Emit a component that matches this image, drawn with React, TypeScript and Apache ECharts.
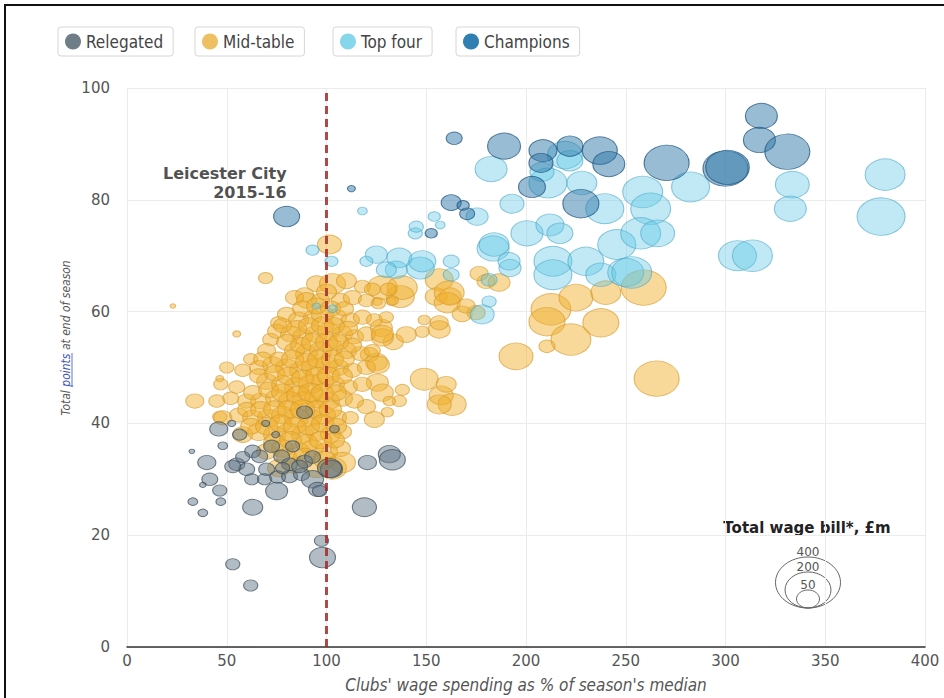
import React, { useEffect, useRef } from "react";
import * as echarts from "echarts";

// [wage % of median, points, total wage bill £m]
const relegated: number[][] = [
  [32.5, 35, 3], [40, 33, 31], [41.5, 30, 24], [38, 29, 4], [46.5, 28, 19], [33, 26, 9], [47, 26, 9], [38, 24, 9],
  [46, 39, 31], [52.5, 40, 6], [48, 36, 9], [56.5, 38, 19], [89, 42, 24], [69.5, 40, 6], [74.5, 38, 6], [104, 39, 9],
  [55, 32.7, 24], [63, 35, 24], [72.5, 35.9, 24], [77.5, 34.1, 24], [83, 35.9, 19], [60, 31.8, 24], [66.5, 34.1, 24],
  [70, 31.8, 24], [81.5, 32.7, 24], [89, 33.2, 24], [62.5, 30, 19], [69, 30, 19], [75.5, 30.4, 24], [81.5, 30.5, 24],
  [87.5, 30.9, 24], [93, 30, 46], [102.5, 31.8, 46], [75, 27.9, 46], [95.5, 28.2, 31], [53, 32.3, 24], [86.5, 32.3, 24],
  [93, 34, 24], [96.5, 27.9, 19], [101.5, 32, 55], [63, 25, 38], [97.5, 19, 19], [98, 16, 64], [53, 14.8, 19],
  [62, 11, 19], [120.5, 33, 31], [131.5, 34.5, 46], [133, 33.5, 64], [119, 25, 55], [58, 34, 19], [78, 32, 19],
];

const midTable: number[][] = [
  [23, 61, 3], [69.5, 66, 19], [55, 56, 6], [89, 63, 31], [46.5, 48, 6], [34, 44, 31], [46.5, 41.2, 19], [101.5, 72, 55],
  [212.5, 60.4, 151], [225, 62.5, 109], [210.5, 58.2, 123], [237.5, 58, 123], [222.5, 55, 151], [210.5, 53.8, 24],
  [195, 52, 109], [265.5, 48, 192], [240, 63.4, 85], [259, 64.3, 192],
  [156.5, 65.7, 74], [155, 62.7, 46], [162, 62.7, 46], [168, 59.6, 38], [156.5, 56.8, 46], [148, 56.4, 19],
  [137, 62.7, 74], [133.5, 54.6, 38], [149, 47.9, 74], [157.5, 45, 55], [136.5, 44, 19], [175, 59.8, 31],
  [180, 65.4, 31], [186.5, 65.2, 46], [176.5, 66.8, 31], [128, 64.3, 85], [138, 64.3, 85], [161.5, 63.4, 85],
  [160.5, 61.6, 64], [170, 61, 31], [125.5, 61.8, 9], [132.5, 61.8, 9], [127.5, 57.1, 46], [128, 55.4, 46],
  [140, 55.9, 38], [149, 58.5, 14], [156.5, 58, 31], [121.5, 52.3, 31], [125, 51, 46], [160, 47, 38],
  [125.5, 47.3, 46], [138, 46, 19], [128, 45.5, 46], [163, 43.4, 74], [156.5, 43.4, 55], [131.5, 44, 14],
  [130.5, 42, 14], [120, 43, 31], [124, 40.7, 38],
  [95, 65, 38], [103, 65, 64], [110, 65.5, 38], [118, 64.5, 24], [123, 64, 24], [131, 64, 24],
  [84, 62.5, 31], [90, 62, 38], [97, 62, 31], [100, 63.5, 38], [107, 62, 31], [113, 62.5, 31], [120, 62, 24], [126, 61.5, 19], [133, 62, 14],
  [76, 58, 24], [80, 59.5, 31], [86, 58.5, 38], [93, 59, 31], [98, 59.5, 46], [105, 59, 38], [112, 58.5, 31], [118, 59, 31], [124, 58.5, 24], [130, 59, 19],
  [72, 55, 24], [75, 56.5, 31], [82, 56, 38], [88, 55.5, 38], [95, 56, 46], [101, 56.5, 46], [108, 56, 38], [114, 55.5, 31], [120, 56, 31], [128, 56, 46],
  [62, 51.5, 19], [70, 53, 31], [84, 53, 38], [90, 52.5, 46], [97, 53, 46], [103, 53.5, 38], [110, 53, 38], [117, 52.5, 31], [123, 53, 24],
  [50, 50, 19], [58, 49.5, 24], [66, 50, 31], [73, 50.5, 38], [80, 50, 46], [87, 49.5, 46], [93, 50, 46], [100, 50.5, 46], [106, 50, 38], [113, 49.5, 31], [120, 50, 31], [126, 50.5, 46],
  [47, 47, 19], [55, 46.5, 24], [70, 47.5, 38], [78, 47, 46], [85, 46.5, 55], [92, 47, 55], [98, 47.5, 46], [104, 47, 38], [111, 46.5, 31], [118, 47, 31],
  [45, 44, 24], [52, 44.5, 24], [60, 44, 31], [67, 44, 38], [75, 44.5, 46], [82, 44, 55], [89, 44, 55], [95, 44.5, 55], [101, 44, 46], [108, 44.5, 38], [114, 44, 31],
  [48, 41, 31], [56, 41.5, 31], [63, 41, 38], [71, 41, 46], [78, 41.5, 46], [85, 41, 55], [92, 41, 46], [99, 41.5, 46], [105, 41, 38], [112, 41, 24],
  [58, 38, 38], [66, 38.5, 46], [74, 38, 46], [81, 38.5, 46], [88, 38, 46], [95, 38.5, 46], [102, 38, 38], [108, 38.5, 31],
  [70, 35, 38], [78, 35.5, 46], [86, 35, 46], [93, 35.5, 46], [100, 35, 46], [107, 35.5, 38],
  [76, 32, 46], [84, 32.5, 38], [95, 32, 55], [103, 32, 74], [108, 33, 64],
  [88, 60.5, 38], [95, 61, 38], [102, 60.5, 38], [109, 60.5, 31],
  [78, 57.5, 31], [85, 57, 38], [91, 57.5, 38], [98, 57.5, 46], [104, 57.5, 38], [111, 57, 31],
  [80, 54.5, 38], [87, 54, 38], [93, 54.5, 46], [100, 54.5, 46], [106, 54.5, 38], [113, 54, 31],
  [68, 51.5, 31], [76, 51.5, 31], [83, 51.5, 46], [90, 51, 46], [96, 51.5, 46], [103, 51.5, 46], [109, 51.5, 38],
  [66, 48.5, 31], [74, 49, 38], [81, 48.5, 46], [88, 48, 46], [95, 48.5, 46], [101, 48.5, 46], [108, 48.5, 38],
  [63, 45.5, 31], [71, 46, 38], [78, 45.5, 46], [86, 45, 55], [92, 45.5, 55], [98, 45.5, 46], [105, 45.5, 38],
  [60, 42.5, 31], [67, 42.5, 38], [74, 42.5, 46], [81, 42.5, 46], [88, 42.5, 55], [95, 42.5, 46], [102, 42.5, 46],
  [62, 39.5, 38], [70, 39.5, 46], [77, 40, 46], [84, 39.5, 46], [91, 39.5, 46], [98, 40, 46], [105, 39.5, 38],
  [74, 36.5, 46], [82, 37, 46], [90, 36.5, 46], [97, 37, 46], [104, 37, 38],
  [80, 34, 38], [89, 34, 46], [99, 33.5, 46],
];

const topFour: number[][] = [
  [182.5, 85.5, 97], [211, 83, 137], [219.5, 88, 116], [228, 83, 85], [239.5, 78.4, 137], [258.5, 81.4, 151],
  [262.5, 78.4, 151], [282.5, 82.3, 137], [333.5, 82.7, 109], [332.5, 78.4, 97], [380, 84.5, 151], [378, 77, 218],
  [306, 70, 137], [313.5, 70, 151], [200.5, 74, 97], [212, 75.5, 74], [217, 74, 64], [245.5, 72, 137],
  [257.5, 74, 151], [266, 74, 109], [213.5, 69, 137], [213.5, 66.6, 137], [230, 69, 123], [237.5, 66.6, 85],
  [183.5, 71.3, 97], [192, 67.8, 46], [193, 79.3, 55], [175.5, 77, 46], [154, 77, 14], [157, 75.5, 9],
  [144.5, 74, 19], [162.5, 69, 24], [162.5, 66.6, 24], [181.5, 65.7, 24], [181.5, 61.8, 19], [178, 59.5, 55],
  [147, 67.8, 74], [135, 67.5, 46], [125, 70.2, 46], [136.5, 69.6, 59], [148, 69, 69], [130, 67.5, 38],
  [120, 69, 16], [93, 71, 16], [102.5, 69, 16], [184, 72, 85], [191.5, 69, 46], [118, 78, 9], [145, 75.2, 19],
  [222, 87, 64], [208, 85, 55], [250, 67, 123], [253, 67, 151], [95, 61, 6], [103, 60.5, 9],
];

const champions: number[][] = [
  [164, 91, 24], [189, 89.6, 103], [208.5, 88.8, 74], [207.5, 86.6, 55], [222, 89.6, 64], [237, 88.8, 116],
  [241.5, 86.4, 97], [203, 82.3, 69], [227.5, 79.3, 123], [270.5, 86.6, 192], [300, 85.6, 192], [301, 85.8, 180],
  [318, 95, 97], [317, 90.7, 97], [331, 88.6, 192], [162.5, 79.5, 38], [170.5, 77.5, 21], [168.5, 79, 14],
  [152.5, 74, 14], [112.5, 82, 6],
];
const leicester: number[] = [80, 77, 64];
const leicesterLabel = "Leicester City\n2015-16";

const xTicks = { min: 0, max: 400, interval: 50 };
const yTicks = { min: 0, max: 100, interval: 20 };
const medianLine = 100;
const sizeLegend: { wage: number; label: string }[] = [
  { wage: 400, label: "400" },
  { wage: 200, label: "200" },
  { wage: 50, label: "50" },
];

const FONT = '"DejaVu Sans", sans-serif';
const COND = '"DejaVu Sans Condensed", "DejaVu Sans", sans-serif';
const KX = 3.25;
const KY = 2.55;
const sz = (v: number[]) => [KX * Math.sqrt(v[2]), KY * Math.sqrt(v[2])];

export default function App() {
  const ref = useRef<HTMLDivElement>(null);
  useEffect(() => {
    if (!ref.current) return;
    const chart = echarts.init(ref.current, undefined, { renderer: "svg" });

    const legendBase = (name: string, left: number, color: string) => ({
      left,
      top: 27,
      data: [{ name, itemStyle: { color, opacity: 1, borderWidth: 0 } }],
      icon: "circle",
      itemWidth: 16,
      itemHeight: 16,
      itemTextGap: 7,
      padding: [6, 10, 6, 7],
      borderColor: "#d6d6d6",
      borderWidth: 1,
      borderRadius: 3,
      backgroundColor: "#fff",
      selectedMode: false,
      textStyle: { fontFamily: COND, fontSize: 17, color: "#444" },
    });

    // size legend
    const cx = 808;
    const bottomY = 608;
    const sizeEls: any[] = [];
    sizeLegend.forEach((s) => {
      const rx = (KX * Math.sqrt(s.wage)) / 2;
      const ry = (KY * Math.sqrt(s.wage)) / 2;
      sizeEls.push({
        type: "ellipse",
        shape: { cx, cy: bottomY - ry, rx, ry },
        style: { fill: "none", stroke: "#666", lineWidth: 1 },
      });
      sizeEls.push({
        type: "text",
        x: cx,
        y: bottomY - 2 * ry + 1,
        style: {
          text: s.label,
          align: "center",
          verticalAlign: "bottom",
          fontFamily: FONT,
          fontSize: 12,
          fill: "#555",
        },
      });
    });

    chart.setOption({
      animation: false,
      backgroundColor: "#fff",
      grid: { left: 127, right: 19, top: 88, bottom: 50 },
      legend: [
        legendBase("Relegated", 58, "#6e7d88"),
        legendBase("Mid-table", 195, "#ecc063"),
        legendBase("Top four", 333, "#86d6ec"),
        legendBase("Champions", 456, "#2f7fb0"),
      ],
      xAxis: {
        type: "value",
        ...xTicks,
        axisLine: { show: true, onZero: false, lineStyle: { color: "#333", width: 1.5 } },
        axisTick: { show: false },
        splitLine: { show: true, lineStyle: { color: "#ebebeb", width: 1 } },
        axisLabel: { fontFamily: FONT, fontSize: 15, color: "#555", margin: 6 },
        name: "Clubs' wage spending as % of season's median",
        nameLocation: "middle",
        nameGap: 29,
        nameTextStyle: { fontFamily: COND, fontSize: 17, fontStyle: "italic", color: "#555", verticalAlign: "top" },
      },
      yAxis: {
        type: "value",
        ...yTicks,
        axisLine: { show: false },
        axisTick: { show: false },
        splitLine: { show: true, lineStyle: { color: "#ebebeb", width: 1 } },
        axisLabel: { fontFamily: FONT, fontSize: 15, color: "#555", margin: 17 },
      },
      graphic: [
        {
          type: "polyline",
          shape: { points: [[5, 698], [5, 5], [944, 5]] },
          style: { stroke: "#111", lineWidth: 2, fill: "none" },
          silent: true,
        },
        {
          type: "group",
          x: 66,
          y: 338,
          rotation: Math.PI / 2,
          children: [
            {
              type: "text",
              x: 0,
              y: 0,
              style: {
                text: "Total {p|points} at end of season",
                align: "center",
                verticalAlign: "middle",
                fontFamily: COND,
                fontSize: 12,
                fontStyle: "italic",
                fill: "#555",
                rich: { p: { fill: "#3d52b8", fontFamily: COND, fontSize: 12, fontStyle: "italic" } },
              },
            },
            {
              type: "line",
              shape: { x1: -48, y1: 6, x2: -15, y2: 6 },
              style: { stroke: "#3d52b8", lineWidth: 0.8 },
            },
          ],
        },
        {
          type: "text",
          x: 807,
          y: 528,
          style: {
            text: "Total wage bill*, £m",
            align: "center",
            verticalAlign: "middle",
            fontFamily: FONT,
            fontSize: 15,
            fontWeight: "bold",
            fill: "#222",
          },
        },
        ...sizeEls,
      ],
      series: [
        {
          name: "Mid-table",
          type: "scatter",
          z: 2,
          data: midTable,
          symbolSize: sz,
          itemStyle: { color: "rgba(240,176,44,0.6)", borderColor: "rgba(214,156,48,0.85)", borderWidth: 1 },
        },
        {
          name: "Top four",
          type: "scatter",
          z: 3,
          data: topFour,
          symbolSize: sz,
          itemStyle: { color: "rgba(98,200,230,0.5)", borderColor: "rgba(80,170,200,0.8)", borderWidth: 1 },
        },
        {
          name: "Relegated",
          type: "scatter",
          z: 4,
          data: relegated,
          symbolSize: sz,
          itemStyle: { color: "rgba(95,116,131,0.6)", borderColor: "rgba(60,76,90,0.9)", borderWidth: 1 },
        },
        {
          name: "Champions",
          type: "scatter",
          z: 5,
          data: [
            ...champions,
            {
              value: leicester,
              label: {
                show: true,
                position: "top",
                distance: 4,
                align: "right",
                verticalAlign: "bottom",
                formatter: leicesterLabel,
                fontFamily: FONT,
                fontSize: 16,
                fontWeight: "bold",
                lineHeight: 19,
                color: "#222",
              },
            },
          ],
          symbolSize: sz,
          itemStyle: { color: "rgba(40,115,165,0.6)", borderColor: "rgba(25,80,125,0.9)", borderWidth: 1 },
        },
        {
          name: "ref",
          type: "scatter",
          data: [],
          z: 6,
          markLine: {
            silent: true,
            symbol: ["none", "none"],
            label: { show: false },
            lineStyle: { color: "#a52a2a", type: [8, 5], width: 3, opacity: 0.85 },
            data: [{ xAxis: medianLine }],
          },
        },
      ],
    });
    return () => chart.dispose();
  }, []);
  return (
    <div
      ref={ref}
      style={{ position: "fixed", left: 0, top: 0, width: 944, height: 698 }}
    />
  );
}
